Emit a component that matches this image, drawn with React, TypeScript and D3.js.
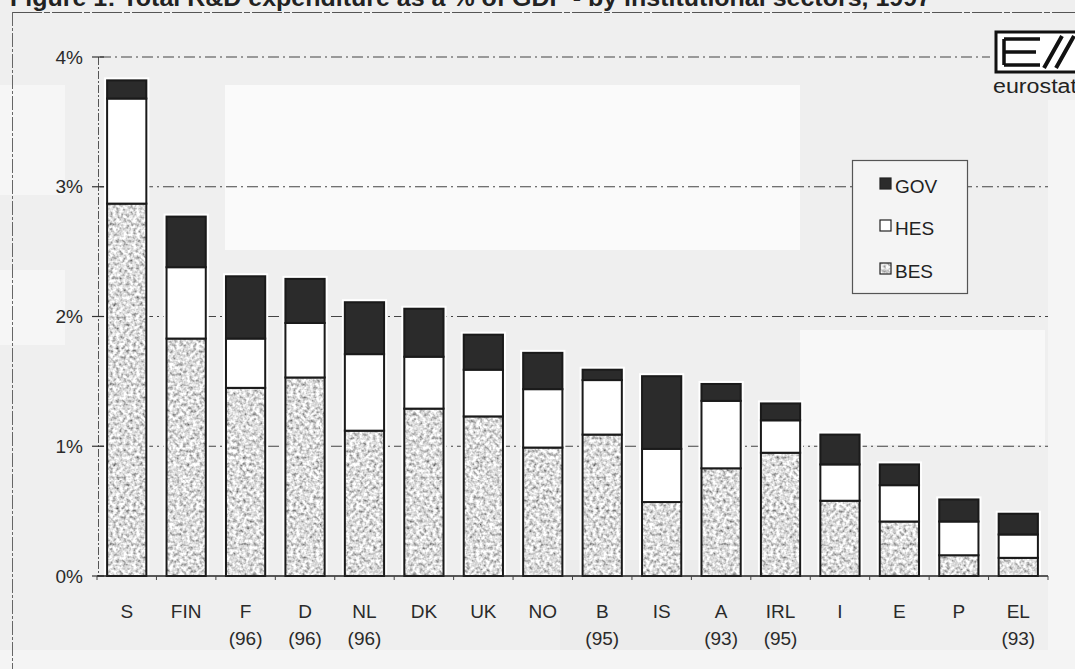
import React from 'react'
import * as d3 from 'd3'

// R&D expenditure as % of GDP by institutional sector
const countries = ['S', 'FIN', 'F', 'D', 'NL', 'DK', 'UK', 'NO', 'B', 'IS', 'A', 'IRL', 'I', 'E', 'P', 'EL']
const years = ['', '', '(96)', '(96)', '(96)', '', '', '', '(95)', '', '(93)', '(95)', '', '', '', '(93)']
const bes = [2.87, 1.83, 1.45, 1.53, 1.12, 1.29, 1.23, 0.99, 1.09, 0.57, 0.83, 0.95, 0.58, 0.42, 0.16, 0.14]
const hes = [0.81, 0.55, 0.38, 0.42, 0.59, 0.40, 0.36, 0.45, 0.42, 0.41, 0.52, 0.25, 0.28, 0.28, 0.26, 0.18]
const gov = [0.14, 0.39, 0.48, 0.34, 0.40, 0.37, 0.27, 0.28, 0.08, 0.56, 0.13, 0.13, 0.23, 0.16, 0.17, 0.16]
const yTicks = [0, 1, 2, 3, 4]
const legendItems = ['GOV', 'HES', 'BES']

const W = 1075
const H = 669
const font = '"Liberation Sans", Arial, sans-serif'

export default function App() {
    const x = d3.scaleBand<string>().domain(countries).range([97, 1048]).paddingInner(0.34).paddingOuter(0.17)
    const y = d3.scaleLinear().domain([0, 4]).range([576, 57])
    const step = x.step()

    const rows = countries.map((c, i) => ({ c, yr: years[i], bes: bes[i], hes: hes[i], gov: gov[i] }))
    const stack = d3.stack<any>().keys(['bes', 'hes', 'gov'])(rows)
    const fills: Record<string, string> = { bes: 'url(#besPat)', hes: '#ffffff', gov: '#2b2b2b' }

    // paper patches from the scan
    const patches = [
        [225, 85, 575, 165, '#fafafa'],
        [800, 330, 245, 115, '#f8f8f8'],
        [0, 85, 65, 110, '#f6f6f6'],
        [0, 270, 65, 75, '#f6f6f6'],
        [560, 560, 220, 90, '#ececec'],
        [1048, 100, 27, 569, '#f5f5f5'],
        [0, 650, 1075, 19, '#f4f4f4'],
    ]

    return (
        <svg width={W} height={H} style={{ position: 'fixed', left: 0, top: 0 }} fontFamily={font}>
            <defs>
                <filter id="speckle" x="0" y="0" width="100%" height="100%">
                    <feTurbulence type="fractalNoise" baseFrequency="0.3" numOctaves="2" seed="7" />
                    <feColorMatrix type="matrix"
                        values="1.6 0 0 0 -0.08  1.6 0 0 0 -0.08  1.6 0 0 0 -0.08  0 0 0 0 1" />
                </filter>
                <pattern id="besPat" width="160" height="160" patternUnits="userSpaceOnUse">
                    <rect width="160" height="160" filter="url(#speckle)" />
                </pattern>
            </defs>
            <rect width={W} height={H} fill="#efefef" />
            {patches.map((p, i) => (
                <rect key={i} x={p[0] as number} y={p[1] as number} width={p[2] as number} height={p[3] as number} fill={p[4] as string} />
            ))}

            {/* title, clipped at the top edge of the scan */}
            <text x={10} y={6} fontSize={23} fontWeight="bold" fill="#222" textLength={921} lengthAdjust="spacingAndGlyphs">
                Figure 1: Total R&amp;D expenditure as a % of GDP - by institutional sectors, 1997
            </text>

            {/* frame */}
            <line x1={12} x2={W} y1={12.5} y2={12.5} stroke="#555" strokeWidth={1.2} strokeDasharray="30 2 6 2" />
            <line x1={12.5} x2={12.5} y1={12} y2={H} stroke="#666" strokeWidth={1} strokeDasharray="14 2 3 2" />

            {/* gridlines */}
            {yTicks.filter(t => t > 0).map(t => (
                <line key={t} x1={100} x2={t === 4 ? 990 : 1048} y1={y(t)} y2={y(t)}
                    stroke="#444" strokeWidth={1.2} strokeDasharray="11 4 2 4" />
            ))}

            {/* y axis */}
            <line x1={98.5} x2={98.5} y1={y(4)} y2={y(0)} stroke="#555" strokeWidth={1} strokeDasharray="8 2 2 2" />
            {yTicks.map(t => (
                <g key={t}>
                    <line x1={92} x2={104} y1={y(t)} y2={y(t)} stroke="#333" strokeWidth={1.2} />
                    <text x={83} y={y(t) + 6.5} textAnchor="end" fontSize={19} fill="#2a2a2a">{t}%</text>
                </g>
            ))}

            {/* bar halos */}
            {rows.map(r => (
                <rect key={r.c} x={(x(r.c) as number) - 3} y={y(r.bes + r.hes + r.gov) - 3}
                    width={x.bandwidth() + 6} height={y(0) - y(r.bes + r.hes + r.gov) + 3} fill="#ffffff" />
            ))}

            {/* stacked bars */}
            {stack.map(s => (
                <g key={s.key}>
                    {s.map((d, i) => (
                        <rect key={i} x={x(countries[i])} y={y(d[1])} width={x.bandwidth()} height={y(d[0]) - y(d[1])}
                            fill={fills[s.key]} stroke="#1a1a1a" strokeWidth={2} />
                    ))}
                </g>
            ))}

            {/* x axis */}
            <line x1={97} x2={1048} y1={y(0)} y2={y(0)} stroke="#222" strokeWidth={1.5} />
            {d3.range(countries.length + 1).map(i => (
                <line key={i} x1={97 + i * step} x2={97 + i * step} y1={y(0)} y2={y(0) + 4} stroke="#444" strokeWidth={1} />
            ))}
            {rows.map(r => {
                const cx = (x(r.c) as number) + x.bandwidth() / 2
                return (
                    <g key={r.c} fill="#2a2a2a" fontSize={19} textAnchor="middle">
                        <text x={cx} y={618}>{r.c}</text>
                        {r.yr && <text x={cx} y={645}>{r.yr}</text>}
                    </g>
                )
            })}

            {/* legend */}
            <rect x={852.5} y={160.5} width={115} height={133} fill="#f4f4f4" stroke="#555" strokeWidth={1.2} />
            {legendItems.map((k, i) => {
                const ly = [178, 220, 263][i]
                const key = k.toLowerCase()
                return (
                    <g key={k}>
                        <rect x={880} y={ly} width={11} height={11} fill={key === 'hes' ? '#fff' : fills[key]} stroke="#222" strokeWidth={1.2} />
                        <text x={895} y={ly + 15} fontSize={19} fill="#222">{k}</text>
                    </g>
                )
            })}

            {/* eurostat logo */}
            <g>
                <rect x={996} y={32} width={90} height={40} fill="#fff" stroke="#111" strokeWidth={3} />
                <path d="M1004 39 H1040 M1004 52 H1036 M1004 65 H1040 M1004 39 V65" stroke="#111" strokeWidth={3.5} fill="none" />
                <path d="M1044 68 L1062 36 M1056 68 L1074 36" stroke="#111" strokeWidth={4} fill="none" />
                <text x={993} y={93} fontSize={20} fill="#222" textLength={84} lengthAdjust="spacingAndGlyphs">eurostat</text>
            </g>
        </svg>
    )
}
